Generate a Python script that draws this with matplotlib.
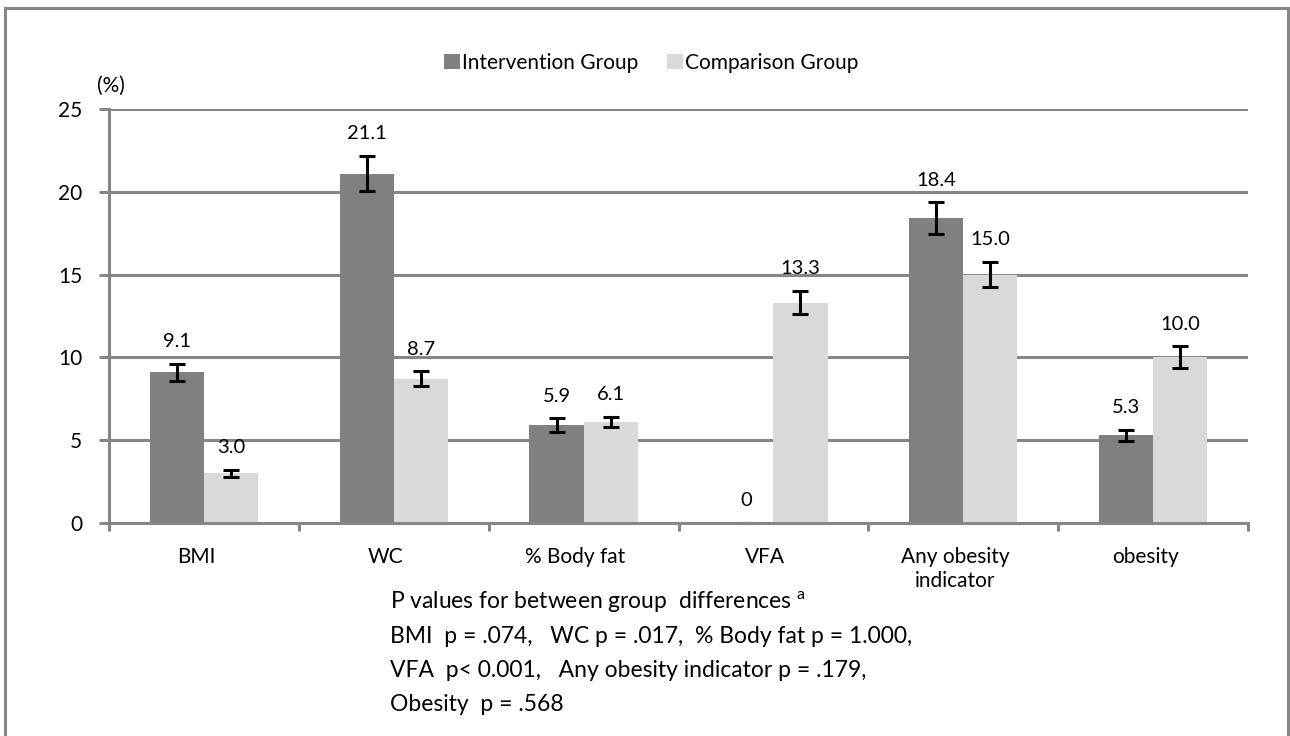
import numpy as np
import matplotlib
matplotlib.use("Agg")
import matplotlib.pyplot as plt
from matplotlib import patches
from matplotlib.transforms import ScaledTranslation

plt.rcParams['font.family'] = ['Lato', 'DejaVu Sans']
plt.rcParams['mathtext.fontset'] = 'custom'
plt.rcParams['mathtext.rm'] = 'Lato'

### data
categories = ["BMI", "WC", "% Body fat", "VFA", "Any obesity\nindicator", "obesity"]
intervention = [9.1, 21.1, 5.9, 0.0, 18.4, 5.3]
comparison = [3.0, 8.7, 6.1, 13.3, 15.0, 10.0]
intervention_err = [0.5, 1.05, 0.42, 0.0, 0.97, 0.33]
comparison_err = [0.2, 0.45, 0.33, 0.7, 0.75, 0.66]
series_names = ["Intervention Group", "Comparison Group"]
yticks = [0, 5, 10, 15, 20, 25]
pvalue_lines = [
    r"P values for between group  differences $^\mathregular{a}$",
    "BMI  p = .074,   WC p = .017,  % Body fat p = 1.000,",
    "VFA  p< 0.001,   Any obesity indicator p = .179,",
    "Obesity  p = .568",
]

dark = "#808080"
light = "#d9d9d9"
gray = "#868686"

fig = plt.figure(figsize=(12.9, 7.36), dpi=100)
ax = fig.add_axes([109/1290, 1-523/736, (1248-109)/1290, (523-109)/736])

x = np.arange(len(categories))
w = 0.285
ekw = dict(ecolor="black", elinewidth=2.2, capsize=5.8, capthick=2.2)
ax.bar(x - w/2, intervention, w, color=dark, label=series_names[0],
       yerr=intervention_err, error_kw=ekw, zorder=3)
ax.bar(x + w/2, comparison, w, color=light, label=series_names[1],
       yerr=comparison_err, error_kw=ekw, zorder=3)

# value labels above the error bars
for xs, vals, errs in [(x - w/2, intervention, intervention_err),
                       (x + w/2, comparison, comparison_err)]:
    for xi, v, e in zip(xs, vals, errs):
        txt = "0" if v == 0 else f"{v:.1f}"
        ax.annotate(txt, (xi, v + e), xytext=(0, 16), textcoords="offset points",
                    ha="center", va="center", fontsize=14.5, zorder=4)

ax.set_xlim(-0.5, len(categories) - 0.5)
ax.set_ylim(0, 25)
ax.set_yticks(yticks)
ax.yaxis.grid(True, color=gray, linewidth=2.2, zorder=0)
ax.set_axisbelow(True)
for s in ["top", "right"]:
    ax.spines[s].set_visible(False)
for s in ["left", "bottom"]:
    ax.spines[s].set_color(gray)
    ax.spines[s].set_linewidth(2.2)
    ax.spines[s].set_zorder(3.5)

ax.tick_params(axis="y", length=7.2, width=2.2, color=gray, pad=12, labelsize=15)
ax.set_xticks(x)
ax.set_xticklabels(categories, fontsize=15, linespacing=1.25)
ax.set_xticks(np.arange(-0.5, len(categories)), minor=True)
ax.tick_params(axis="x", which="major", length=0, pad=17)
ax.tick_params(axis="x", which="minor", length=6, width=2.2, color=gray)
shift = ScaledTranslation(-8/100, 0, fig.dpi_scale_trans)
for lab in ax.get_xticklabels():
    lab.set_transform(lab.get_transform() + shift)
    lab.set_verticalalignment("top")

fig.text(111/1290, 1-86/736, "(%)", ha="center", va="center", fontsize=15)

fig.legend(loc="center", bbox_to_anchor=(651/1290, 1-63/736), ncol=2, frameon=False,
           fontsize=15, handlelength=0.75, handleheight=0.75, handletextpad=0.1,
           columnspacing=1.4)

# p-value note under the axis
for i, line in enumerate(pvalue_lines):
    fig.text(390/1290, 1-(609 + 34*i)/736, line, ha="left", va="baseline", fontsize=16.5)

# outer frame
fig.patches.append(patches.Rectangle((5/1290, -0.05), (1288-5)/1290, 1-8/736+0.05,
                                     transform=fig.transFigure, fill=False,
                                     edgecolor=gray, linewidth=2.2))

fig.savefig("out.png", dpi=100)
